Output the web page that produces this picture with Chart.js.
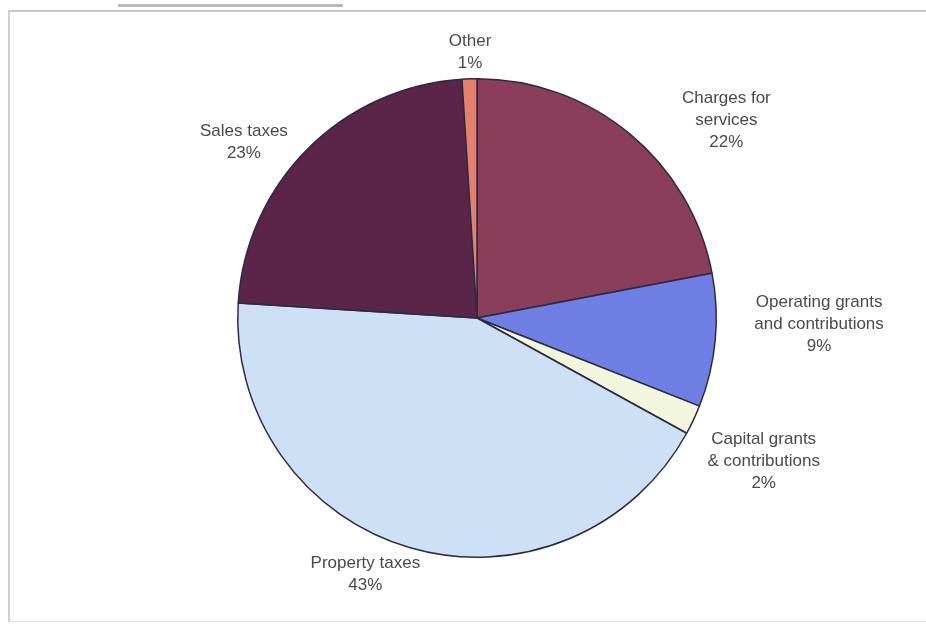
<!DOCTYPE html>
<html>
<head>
<meta charset="utf-8">
<script src="https://cdn.jsdelivr.net/npm/chart.js@4"></script>
<style>
  html, body { margin: 0; padding: 0; background: #fff; }
  #wrap { position: relative; width: 926px; height: 624px; overflow: hidden; }
  #frame { position: absolute; left: 8px; top: 10px; width: 930px; height: 609px;
           border-left: 2px solid #cfcfcf; border-top: 2px solid #c8c8c8; border-bottom: 1px solid #e4e4e4; }
  #scuff { position: absolute; left: 118px; top: 4px; width: 225px; height: 3px; background: #8a8a8a; opacity: 0.6; }
  canvas { position: absolute; left: 0; top: 0; }
</style>
</head>
<body>
<div id="wrap">
  <div id="frame"></div>
  <div id="scuff"></div>
  <canvas id="revenueChart" width="926" height="624"></canvas>
</div>
<script>
const categories = [
  ["Charges for", "services"],
  ["Operating grants", "and contributions"],
  ["Capital grants", "& contributions"],
  ["Property taxes"],
  ["Sales taxes"],
  ["Other"]
];
const shares = [22, 9, 2, 43, 23, 1];
const colours = ["#8a3e59", "#6f7fe4", "#f1f6dc", "#cde0f6", "#5b2449", "#e5806e"];

// label placement: [angle nudge in degrees, distance as a multiple of the radius]
const labelPlacement = [[12, 1.33], [-4.4, 1.43], [1.4, 1.34], [7.3, 1.17], [-8, 1.22], [0.3, 1.11]];

const sliceLabels = {
  id: "sliceLabels",
  afterDatasetsDraw(chart) {
    const ctx = chart.ctx;
    const arcs = chart.getDatasetMeta(0).data;
    ctx.save();
    ctx.font = "17px 'Liberation Sans', Arial, sans-serif";
    ctx.fillStyle = "#4a4a4a";
    ctx.textAlign = "center";
    ctx.textBaseline = "middle";
    arcs.forEach(function (arc, i) {
      const mid = (arc.startAngle + arc.endAngle) / 2 + labelPlacement[i][0] * Math.PI / 180;
      const r = arc.outerRadius * labelPlacement[i][1];
      const x = arc.x + Math.cos(mid) * r;
      const y = arc.y + Math.sin(mid) * r;
      const lines = categories[i].concat([shares[i] + "%"]);
      const lh = 22;
      const top = y - (lines.length - 1) * lh / 2;
      lines.forEach(function (t, j) {
        ctx.fillText(t, x, top + j * lh);
      });
    });
    ctx.restore();
  }
};

new Chart(document.getElementById("revenueChart").getContext("2d"), {
  type: "pie",
  data: {
    labels: categories.map(function (c) { return c.join(" "); }),
    datasets: [{
      data: shares,
      backgroundColor: colours,
      borderColor: "#2b2a42",
      borderWidth: 1.5
    }]
  },
  options: {
    responsive: false,
    animation: false,
    layout: { padding: { top: 78, bottom: 66, left: 28, right: 0 } },
    plugins: {
      legend: { display: false },
      tooltip: { enabled: false }
    }
  },
  plugins: [sliceLabels]
});
</script>
</body>
</html>
